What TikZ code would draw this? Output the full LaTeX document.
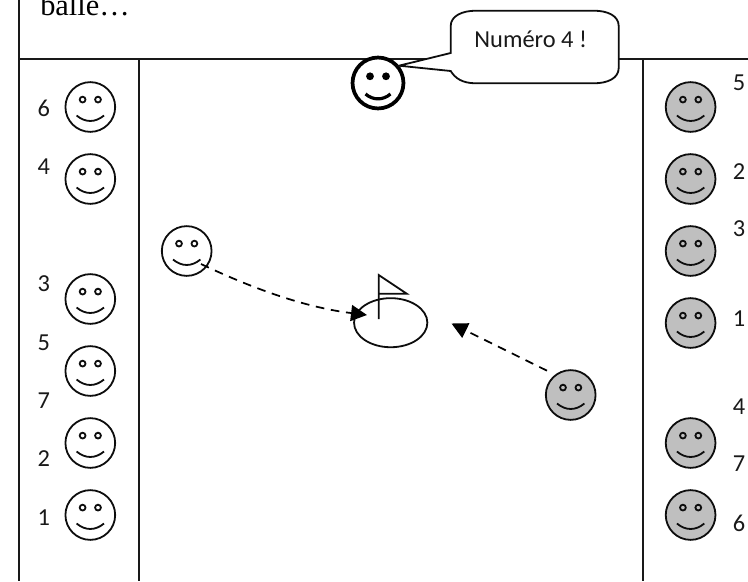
\documentclass[tikz,border=0pt]{standalone}
\usepackage{fontspec}
\setmainfont{Carlito}
\newfontfamily\serifbody{Liberation Serif}
\usetikzlibrary{arrows.meta,calc,shapes.geometric}
\tikzset{
  x=0.75pt,y=-0.75pt,
  rule/.style={line width=1.5pt,black!90},
  ln/.style={line width=1.35pt,black!95},
  num/.style={font=\fontsize{18.3}{20}\selectfont,inner sep=0pt,text=black!90},
  face/.style={circle,draw=black!95,line width=1.35pt,minimum size=37.3pt,inner sep=0pt},
  whiteface/.style={face,fill=white},
  grayface/.style={face,fill=black!25},
  moveline/.style={line width=1.3pt,black,dash pattern=on 6.5pt off 5pt,-{Triangle[length=12pt,width=12pt]}},
}
\newcommand{\smiley}[4]{% name, x, y, style
  \node[#4] (#1) at (#2,#3) {};
  \draw[ln,fill=none] ($(#1)+(-7.7,-7.4)$) circle[radius=2.9];
  \draw[ln,fill=none] ($(#1)+(7.7,-7.4)$) circle[radius=2.9];
  \draw[ln] ($(#1)+(-13.7,8.5)$) .. controls ($(#1)+(-5,15.8)$) and ($(#1)+(5,15.8)$) .. ($(#1)+(13.7,8.5)$);
}
\begin{document}
\begin{tikzpicture}
\useasboundingbox (0,0) rectangle (748,581);
% frame
\coordinate (tl) at (18.5,59);
\coordinate (tr) at (748,59);
\coordinate (ltop) at (18.5,0);
\coordinate (lbot) at (18.5,581);
\coordinate (c1t) at (138.5,59);
\coordinate (c1b) at (138.5,581);
\coordinate (c2t) at (642.7,59);
\coordinate (c2b) at (642.7,581);
\draw[rule] (tl) -- (tr);
\draw[rule] (ltop) -- (lbot);
\draw[rule] (c1t) -- (c1b);
\draw[rule] (c2t) -- (c2b);
\node[anchor=base west,inner sep=0pt,font=\serifbody\fontsize{22.8}{24}\selectfont] (title) at (40,16) {balle…};
% left team
\smiley{la}{90.3}{107}{whiteface}
\smiley{lb}{90.3}{179}{whiteface}
\smiley{lc}{90.3}{299}{whiteface}
\smiley{ld}{90.3}{371}{whiteface}
\smiley{le}{90.3}{443}{whiteface}
\smiley{lf}{90.3}{515}{whiteface}
\node[num] (nl6) at (43.7,108) {6};
\node[num] (nl4) at (43.7,167) {4};
\node[num] (nl3) at (43.7,284) {3};
\node[num] (nl5) at (43.7,343) {5};
\node[num] (nl7) at (43.7,401) {7};
\node[num] (nl2) at (43.7,459) {2};
\node[num] (nl1) at (43.7,518) {1};
% right team
\smiley{ra}{690.6}{107}{grayface}
\smiley{rb}{690.6}{179}{grayface}
\smiley{rc}{690.6}{251}{grayface}
\smiley{rd}{690.6}{323}{grayface}
\smiley{re}{690.6}{443}{grayface}
\smiley{rf}{690.6}{515}{grayface}
\node[num] (nr5) at (739,83) {5};
\node[num] (nr2) at (739,172) {2};
\node[num] (nr3) at (739,229) {3};
\node[num] (nr1) at (739,319) {1};
\node[num] (nr4) at (739,407) {4};
\node[num] (nr7) at (739,464) {7};
\node[num] (nr6) at (739,523) {6};
% players in play
\smiley{wp}{186.7}{251}{whiteface}
\smiley{gp}{570.7}{395}{grayface}
% hole and flag
\node[draw=black!95,line width=1.35pt,ellipse,minimum width=55pt,minimum height=36.8pt,inner sep=0pt] (hole) at (390.7,322.7) {};
\coordinate (poletop) at (378.7,275);
\coordinate (polebot) at (378.7,319);
\coordinate (flagtip) at (406.7,293.7);
\coordinate (flagin) at (378.7,293.7);
\draw[ln] (polebot) -- (poletop) -- (flagtip) -- (flagin);
% arrows
\coordinate (a1s) at (201,264);
\coordinate (a1e) at (367,315);
\coordinate (a2s) at (547,370.7);
\coordinate (a2e) at (451.5,323.5);
\draw[moveline] (a1s) .. controls (260,292) and (310,308) .. (a1e);
\draw[moveline] (a2s) -- (a2e);
% referee and callout
\node[circle,draw=black,line width=2.8pt,minimum size=38.2pt,inner sep=0pt,fill=white] (ref) at (378,83) {};
\fill[black] ($(ref)+(-8,-6.7)$) circle[radius=3.9];
\fill[black] ($(ref)+(8,-6.7)$) circle[radius=3.9];
\draw[line width=2.4pt] ($(ref)+(-12.5,11)$) .. controls ($(ref)+(-5,17.5)$) and ($(ref)+(5,17.5)$) .. ($(ref)+(12.5,11)$);
\coordinate (ctip) at (399,65.7);
\draw[ln,fill=white] (450.7,53) -- (450.7,26)
  .. controls (450.7,16) and (462,10.7) .. (476,10.7) -- (594,10.7)
  .. controls (608,10.7) and (618.7,16) .. (618.7,26) -- (618.7,68)
  .. controls (618.7,78) and (608,83.3) .. (594,83.3) -- (476,83.3)
  .. controls (462,83.3) and (455,78) .. (450.7,71) -- (ctip) -- cycle;
\node[font=\fontsize{18.3}{20}\selectfont,inner sep=0pt,text=black!90] (say) at (530.7,39) {Numéro 4 !};
\end{tikzpicture}
\end{document}
